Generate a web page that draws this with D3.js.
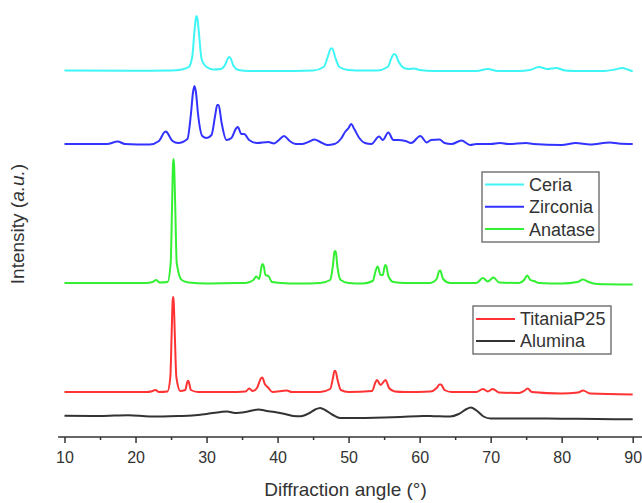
<!DOCTYPE html>
<html><head><meta charset="utf-8">
<script src="https://cdn.jsdelivr.net/npm/d3@7"></script>
<style>
html,body{margin:0;padding:0;background:#fff;}
svg{display:block;font-family:"Liberation Sans",Arial,sans-serif;}
</style></head>
<body><svg id="c" width="642" height="503"></svg>
<script>
// ---- data (angle in degrees, intensity in a.u. above each pattern's baseline) ----
const seriesNames = ["Ceria","Zirconia","Anatase","TitaniaP25","Alumina"];
const seriesOffsets = [366, 293, 154, 45, 21];
const xTicks = [10,20,30,40,50,60,70,80,90];
const xMinorTicks = [15,25,35,45,55,65,75,85];

const ceria = [[10,0.5],[20,0.3],[25,0.5],[26.5,1.5],[27.5,4],[28,15],[28.3,40],[28.5,53],[28.6,55],[28.7,53],[28.9,40],[29.3,12],[30,4],[31,1.5],[32,2],[32.6,6],[33,12.5],[33.2,14],[33.4,12.5],[33.8,5],[34.5,1],[36,0],[40,0],[45,0.5],[46.5,4],[47.1,15],[47.5,22.5],[47.7,22.5],[48.1,14],[48.7,4],[50,1],[52,0.5],[54,0.5],[55.5,4],[56.1,14],[56.4,17],[56.6,16.5],[57,10],[57.8,3],[58.5,2],[59.2,2.5],[60,1],[62,0],[68,0],[69.6,2],[71,0],[74,0],[75.5,1],[76.8,4],[78,2],[79.2,3],[80.5,0.5],[82,0],[86,0],[87.5,1.5],[88.5,3],[89.3,1.5],[90,-0.5]];

const zirconia = [[10,0],[16,0],[17.5,2.5],[18.5,0],[22,-0.5],[23.3,3],[24.1,12],[24.3,12.5],[24.5,11],[25.2,3],[26,1],[27.3,5],[27.8,30],[28.1,52],[28.3,58],[28.5,52],[28.8,30],[29.4,8],[30,6],[30.7,9],[31.2,28],[31.5,39],[31.7,39],[32.1,22],[32.8,4],[33.5,6],[34.2,16],[34.4,17],[34.9,10],[35.3,10],[36,4],[37.1,1],[38.7,2],[39.5,0.5],[40.2,4],[40.9,8],[41.7,3],[42.6,0],[43.5,0],[44.5,2.5],[45.2,4.5],[46,2],[47,-1],[48,0],[49,6],[49.5,12],[50,16],[50.35,20],[50.8,15],[51.5,6],[52.3,1],[53.2,0],[54.3,7.5],[54.8,4],[55.6,11.5],[56.3,4],[57,4],[58,3],[58.8,1],[60.1,8],[61,1.5],[61.6,4],[62.8,4.5],[63.5,1],[64.5,0],[65.9,3.5],[67.1,-1],[68,0],[70,0],[71.3,1],[72.5,0],[75,1],[76,0],[80,-1],[82,1],[84,-0.5],[86.8,1.5],[88,0.5],[90,0]];

const anatase = [[10,0],[21.5,0],[22.4,1],[22.9,3],[23.4,0.5],[24.5,1],[24.95,20],[25.15,80],[25.27,118],[25.35,124],[25.43,118],[25.58,80],[25.8,20],[26.5,3],[27.5,0.5],[30,-0.5],[34,0],[35.5,0],[36.6,3],[37,6.5],[37.4,4],[37.8,18],[37.9,19],[38.05,17],[38.3,8],[38.7,7],[39.2,1],[40.5,0],[43,-0.5],[46,0],[47.4,3],[47.8,18],[48,31],[48.1,32],[48.2,31],[48.45,15],[48.9,3],[50,0],[52,-0.5],[53.4,2],[53.8,12],[54.05,16.5],[54.15,16],[54.5,8],[54.8,8],[55.15,18],[55.3,17],[55.6,7],[56.3,1],[58,0],[61.5,0],[62.4,4],[62.75,12],[62.9,12.5],[63.3,4],[64.3,0],[68,0],[68.9,5],[69.6,1.5],[70.4,5.5],[71.2,0.5],[74,0],[74.7,3],[75.15,7.5],[75.6,3],[76.1,2],[76.8,0],[80,-0.5],[82.2,1],[83,3.5],[83.8,1],[85,-1],[90,-1.5]];

const titania = [[10,0],[21.5,0],[22.3,0.8],[22.8,2],[23.3,0],[24.5,0.5],[24.9,15],[25.1,62],[25.22,90],[25.3,95],[25.38,90],[25.52,60],[25.75,15],[26.3,1],[27,2],[27.35,11],[27.45,11],[27.8,2],[28.8,0],[33,0],[35.5,0.5],[36,3.5],[36.5,1],[37.1,4],[37.7,14],[37.85,14.5],[38.2,8],[38.6,5],[39.3,0],[41.3,1.5],[42,0],[46,0],[47.4,3],[47.8,14],[48,21],[48.15,21],[48.45,12],[48.9,2],[50,0],[53.3,1],[53.8,10],[54,12],[54.5,7],[55.2,12],[55.7,4],[56.5,0.5],[58,0],[61.5,0.5],[62.4,4],[62.8,7.5],[63,7.5],[63.5,2],[64.5,0],[68,0],[68.9,3],[69.6,0.5],[70.3,3],[71.2,-0.5],[74,-1],[74.7,1],[75.2,3.5],[75.8,0],[80,-1.5],[82.3,-0.5],[83,1.5],[84,-1.5],[90,-2.5]];

const alumina = [[10,0.3],[15,0],[19,0.8],[22,-0.5],[26,0],[28,0.5],[30,2],[32,4],[32.9,4.5],[34,3],[35.5,4],[37.3,6.5],[38.5,5],[39.6,4],[41,2],[42.2,0],[43.3,-0.3],[44.5,3],[45.3,6.5],[46,8],[46.8,5.5],[47.8,1],[48.8,-2],[50,-2],[55,-1.5],[57.3,-1],[60.5,0],[62,-0.2],[64.3,-0.5],[65.5,2],[66.5,6.5],[67.2,8.5],[68,5.5],[69,-0.5],[70,-2.5],[75,-2.5],[80,-2.7],[85,-3],[90,-3.3]];

const seriesData = [ceria, zirconia, anatase, titania, alumina];
const seriesColors = ["#3ff5f5","#3333ff","#33f033","#ff3333","#333333"];

// ---- layout ----
const svg = d3.select("#c");
const x = d3.scaleLinear().domain([10,90]).range([64.5,632.7]);
const y = d3.scaleLinear().domain([0,437]).range([437,0]);

// series lines
const line = d3.line().curve(d3.curveMonotoneX);
seriesData.forEach((pts,i)=>{
  const off = seriesOffsets[i];
  svg.append("path")
    .attr("fill","none")
    .attr("stroke",seriesColors[i])
    .attr("stroke-width",2)
    .attr("stroke-linejoin","round")
    .attr("d", line(pts.map(p=>[x(p[0]), y(p[1]+off)])));
});

// x axis
const axisG = svg.append("g").attr("transform",`translate(0,${y(0)})`);
axisG.append("line").attr("x1",x(9.1)).attr("x2",x(91.4)).attr("stroke","#333").attr("stroke-width",1.5);
const major = axisG.append("g").call(d3.axisBottom(x).tickValues(xTicks).tickSize(6).tickSizeOuter(0).tickPadding(9).tickFormat(d3.format("d")));
const minor = axisG.append("g").call(d3.axisBottom(x).tickValues(xMinorTicks).tickSize(3).tickSizeOuter(0).tickFormat(""));
[major,minor].forEach(g=>{
  g.select(".domain").remove();
  g.selectAll(".tick line").attr("stroke","#333").attr("stroke-width",1.5);
});
major.selectAll(".tick text").attr("fill","#333").style("font-size","16px").style("font-family","Liberation Sans, Arial, sans-serif");

// axis titles
svg.append("text").attr("x",345.5).attr("y",496).attr("text-anchor","middle")
  .attr("fill","#333").style("font-size","19px").text("Diffraction angle (°)");
const yt = svg.append("text").attr("transform","translate(24,224) rotate(-90)")
  .attr("text-anchor","middle").attr("fill","#333").style("font-size","19px");
yt.append("tspan").text("Intensity (");
yt.append("tspan").style("font-style","italic").text("a.u.");
yt.append("tspan").text(")");

// legends
function legend(items, bx, by, bw, bh, rowY0, rowGap, lineX0, lineX1, textX){
  const g = svg.append("g");
  g.append("rect").attr("x",bx).attr("y",by).attr("width",bw).attr("height",bh)
    .attr("fill","#fff").attr("stroke","#777").attr("stroke-width",1.5);
  items.forEach((idx,k)=>{
    const yy = rowY0 + k*rowGap;
    g.append("line").attr("x1",lineX0).attr("x2",lineX1).attr("y1",yy).attr("y2",yy)
      .attr("stroke",seriesColors[idx]).attr("stroke-width",2);
    g.append("text").attr("x",textX).attr("y",yy).attr("dy","0.36em")
      .attr("fill","#333").style("font-size","18px").text(seriesNames[idx]);
  });
}
legend([0,1,2], 482, 172, 117, 70, 184.5, 22.3, 485, 524, 529);
legend([3,4], 473, 306, 138, 48, 319, 22, 476, 515, 520);
</script></body></html>
